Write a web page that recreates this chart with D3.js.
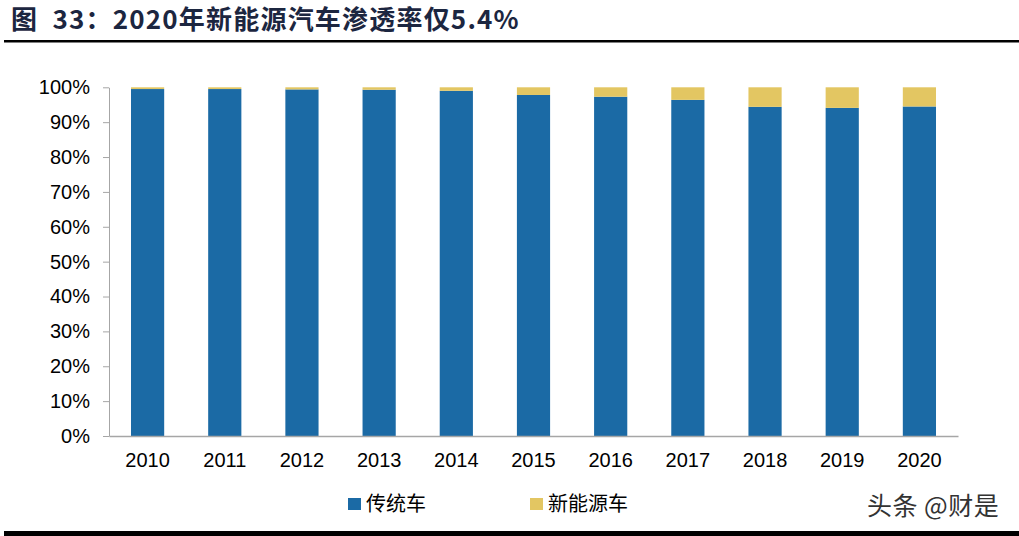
<!DOCTYPE html>
<html><head><meta charset="utf-8">
<script src="https://cdn.jsdelivr.net/npm/d3@7/dist/d3.min.js"></script>
<style>body{margin:0;background:#fff}svg{display:block}</style>
</head><body>
<script>
const years = ["2010","2011","2012","2013","2014","2015","2016","2017","2018","2019","2020"];
const nevShare = [0.5,0.5,0.6,0.7,1.0,2.2,2.7,3.6,5.6,5.9,5.5];
const tradShare = nevShare.map(v => 100 - v);
const yTicks = [0,10,20,30,40,50,60,70,80,90,100];
const seriesNames = ["传统车","新能源车"];
const colors = ["#1b6aa5","#e3c662"];

const W = 1019, H = 536;
const svg = d3.select("body").append("svg").attr("width", W).attr("height", H);

// title
svg.append("text").attr("x", 11).attr("y", 29)
  .attr("font-family", "'Noto Sans CJK SC', 'Liberation Sans', sans-serif")
  .attr("font-weight", "bold").attr("font-size", 26).attr("letter-spacing", 1.2).attr("fill", "#1c2640")
  .attr("xml:space", "preserve")
  .text("图  33：2020年新能源汽车渗透率仅5.4%");
svg.append("rect").attr("x", 4).attr("y", 40).attr("width", 1015).attr("height", 2.5).attr("fill", "#000");
svg.append("rect").attr("x", 4).attr("y", 531).attr("width", 1015).attr("height", 5).attr("fill", "#000");

const x = d3.scaleBand().domain(years).range([109, 958]).paddingInner(0.57).paddingOuter(0.285);
const y = d3.scaleLinear().domain([0, 100]).range([436, 87.3]);

const stackData = years.map((yr, i) => ({year: yr, trad: tradShare[i], nev: nevShare[i]}));
const stack = d3.stack().keys(["trad","nev"])(stackData);

svg.append("g").selectAll("g").data(stack).join("g")
  .attr("fill", (d, i) => colors[i])
  .selectAll("rect").data(d => d).join("rect")
  .attr("x", d => x(d.data.year))
  .attr("width", x.bandwidth())
  .attr("y", d => y(d[1]))
  .attr("height", d => y(d[0]) - y(d[1]));

// y axis
const yAxis = svg.append("g").attr("transform", "translate(109,0)")
  .call(d3.axisLeft(y).tickValues(yTicks).tickFormat(d => d + "%").tickSize(6).tickSizeOuter(0));
yAxis.select(".domain").attr("stroke", "#a6a6a6");
yAxis.selectAll(".tick line").attr("stroke", "#a6a6a6");
yAxis.selectAll("text").attr("font-family", "'Liberation Sans', Arial, sans-serif")
  .attr("font-size", 20).attr("fill", "#000").attr("x", -19);

// x axis
const xAxis = svg.append("g").attr("transform", "translate(0,436)")
  .call(d3.axisBottom(x).tickSize(0).tickSizeOuter(0));
xAxis.select(".domain").attr("stroke", "#a6a6a6").attr("stroke-width", 1.5);
xAxis.selectAll("text").attr("font-family", "'Liberation Sans', Arial, sans-serif")
  .attr("font-size", 20).attr("fill", "#000").attr("dy", "0.71em").attr("y", 17);

// legend
const legendX = [348, 530];
const lg = svg.append("g");
seriesNames.forEach((n, i) => {
  lg.append("rect").attr("x", legendX[i]).attr("y", 498).attr("width", 13).attr("height", 12).attr("fill", colors[i]);
  lg.append("text").attr("x", legendX[i] + 18).attr("y", 511)
    .attr("font-family", "'Noto Sans CJK SC', sans-serif").attr("font-size", 20).attr("fill", "#000")
    .text(n);
});

// watermark
svg.append("text").attr("x", 867).attr("y", 515)
  .attr("font-family", "'Noto Sans CJK SC', sans-serif").attr("font-size", 25).attr("letter-spacing", 0.5).attr("fill", "#333")
  .text("头条 @财是");
</script>
</body></html>
